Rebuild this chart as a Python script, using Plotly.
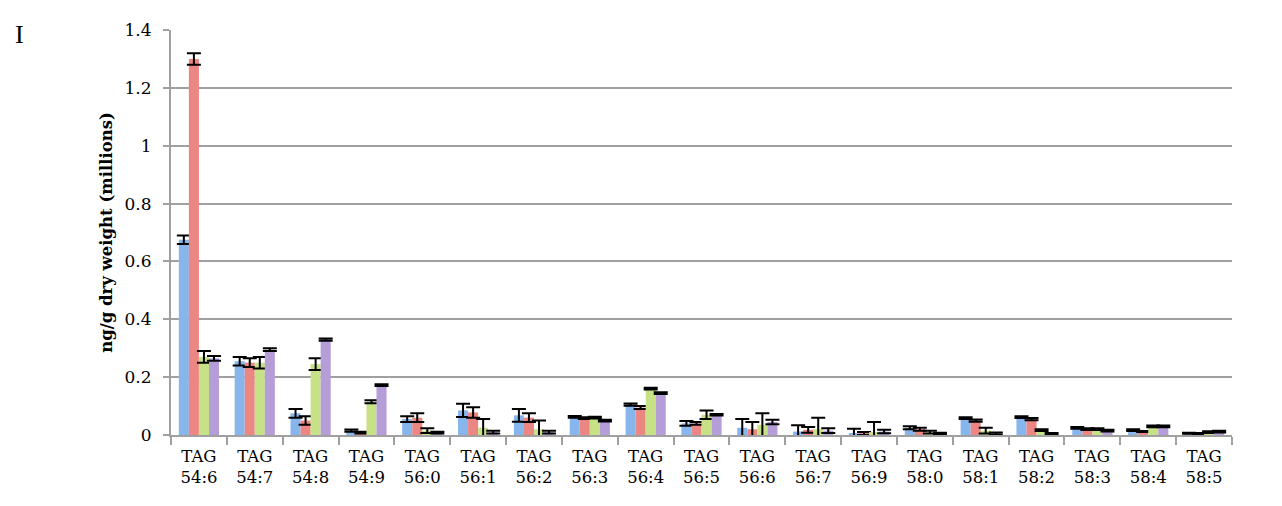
import plotly.graph_objects as go

categories = ["TAG<br>54:6", "TAG<br>54:7", "TAG<br>54:8", "TAG<br>54:9", "TAG<br>56:0", "TAG<br>56:1",
              "TAG<br>56:2", "TAG<br>56:3", "TAG<br>56:4", "TAG<br>56:5", "TAG<br>56:6", "TAG<br>56:7",
              "TAG<br>56:9", "TAG<br>58:0", "TAG<br>58:1", "TAG<br>58:2", "TAG<br>58:3", "TAG<br>58:4",
              "TAG<br>58:5"]

blue_vals = [0.675, 0.255, 0.075, 0.015, 0.055, 0.085, 0.068, 0.063, 0.105, 0.040, 0.025, 0.012, 0.004,
             0.025, 0.058, 0.062, 0.025, 0.017, 0.006]
blue_err = [0.015, 0.015, 0.015, 0.004, 0.010, 0.023, 0.022, 0.003, 0.004, 0.008, 0.030, 0.022, 0.018,
            0.005, 0.003, 0.003, 0.003, 0.003, 0.002]
red_vals = [1.300, 0.250, 0.050, 0.008, 0.060, 0.078, 0.060, 0.058, 0.095, 0.040, 0.020, 0.018, 0.005,
            0.020, 0.050, 0.055, 0.020, 0.012, 0.005]
red_err = [0.020, 0.015, 0.015, 0.003, 0.015, 0.018, 0.015, 0.003, 0.005, 0.005, 0.025, 0.010, 0.005,
           0.005, 0.004, 0.004, 0.003, 0.002, 0.002]
green_vals = [0.270, 0.250, 0.245, 0.115, 0.015, 0.025, 0.020, 0.060, 0.160, 0.070, 0.035, 0.020, 0.010,
              0.010, 0.015, 0.017, 0.020, 0.030, 0.010]
green_err = [0.020, 0.020, 0.020, 0.005, 0.008, 0.030, 0.030, 0.003, 0.003, 0.015, 0.040, 0.040, 0.035,
             0.005, 0.010, 0.003, 0.003, 0.003, 0.003]
purple_vals = [0.265, 0.295, 0.330, 0.172, 0.008, 0.010, 0.010, 0.050, 0.145, 0.070, 0.045, 0.015, 0.012,
               0.005, 0.005, 0.005, 0.015, 0.030, 0.012]
purple_err = [0.008, 0.005, 0.004, 0.003, 0.003, 0.005, 0.005, 0.003, 0.003, 0.003, 0.008, 0.008, 0.006,
              0.003, 0.004, 0.002, 0.003, 0.003, 0.003]

y_ticks = [0, 0.2, 0.4, 0.6, 0.8, 1.0, 1.2, 1.4]
y_labels = ["0", "0.2", "0.4", "0.6", "0.8", "1", "1.2", "1.4"]

series = [
    (blue_vals, blue_err, "#86b6ec"),
    (red_vals, red_err, "#ec8683"),
    (green_vals, green_err, "#c6e186"),
    (purple_vals, purple_err, "#b59dd8"),
]

font_family = "DejaVu Serif"

fig = go.Figure()
for vals, errs, col in series:
    fig.add_trace(go.Bar(
        x=categories, y=vals, marker=dict(color=col, line=dict(width=0)),
        error_y=dict(type="data", array=errs, visible=True, color="black", thickness=2, width=7),
        showlegend=False,
    ))

fig.update_layout(
    width=1282, height=506,
    margin=dict(l=163, r=58, t=18, b=79),
    paper_bgcolor="white", plot_bgcolor="white",
    barmode="group", bargap=0.28, bargroupgap=0,
    font=dict(family=font_family, size=16, color="black"),
    xaxis=dict(
        tickson="boundaries", ticks="outside", ticklen=8, tickcolor="#a0a0a0", tickwidth=2,
        showline=True, linecolor="#a0a0a0", linewidth=2, showgrid=False,
        tickfont=dict(family=font_family, size=16.5), tickangle=0, ticklabelstandoff=5,
    ),
    yaxis=dict(
        range=[0, 1.4], tickvals=y_ticks, ticktext=y_labels,
        ticks="outside", ticklen=6, tickcolor="#a0a0a0", tickwidth=2,
        showline=True, linecolor="#a0a0a0", linewidth=2,
        showgrid=True, gridcolor="#a0a0a0", gridwidth=2, zeroline=False,
        tickfont=dict(family=font_family, size=17), ticklabelstandoff=8,
        title=dict(text="<b>ng/g dry weight (millions)</b>", font=dict(family=font_family, size=16.5),
                   standoff=8),
    ),
    annotations=[dict(text="I", xref="paper", yref="paper", x=-0.1489, y=0.99, showarrow=False,
                      font=dict(family="Liberation Serif", size=26, color="black"),
                      xanchor="left", yanchor="middle")],
)
fig.write_html("out.html")
